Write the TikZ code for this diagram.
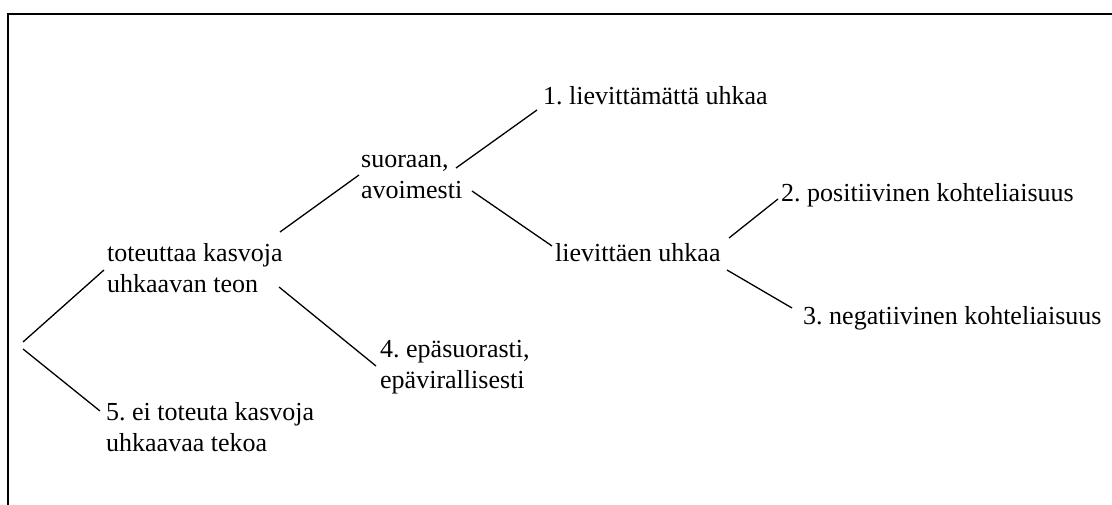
\documentclass[tikz,border=0pt]{standalone}
\usepackage{fontspec}
\setmainfont{Liberation Serif}
\frenchspacing
\begin{document}
\begin{tikzpicture}[x=1pt,y=-1pt,
  lbl/.style={anchor=base west,inner sep=0pt,align=left,font=\fontsize{26}{31}\selectfont},
  branch/.style={line width=1.3pt},
  frame/.style={line width=2pt}]
\useasboundingbox (0,0) rectangle (1112,505);
% open frame: top and left edges only
\draw[frame] (8,505) -- (8,14.5) -- (1112,14.5);

% labels (base anchor sits on the last line of a two-line label)
\node[lbl] (tot) at (107,293) {toteuttaa kasvoja\\uhkaavan teon};
\node[lbl] (ei) at (106,451) {5. ei toteuta kasvoja\\uhkaavaa tekoa};
\node[lbl] (suo) at (361,199) {suoraan,\\avoimesti};
\node[lbl] (epa) at (380,388) {4. epäsuorasti,\\epävirallisesti};
\node[lbl] (lm) at (543,105) {1. lievittämättä uhkaa};
\node[lbl] (lu) at (555,262) {lievittäen uhkaa};
\node[lbl] (pos) at (781,202) {2. positiivinen kohteliaisuus};
\node[lbl] (neg) at (803,325) {3. negatiivinen kohteliaisuus};

% branch end points
\coordinate (rootA) at (23,342);
\coordinate (rootB) at (23,349);
\coordinate (totIn) at (104,270);
\coordinate (eiIn) at (100,411);
\coordinate (totUp) at (280,232);
\coordinate (totDn) at (279,287);
\coordinate (suoIn) at (359,175);
\coordinate (epaIn) at (376,366);
\coordinate (suoUp) at (456,168);
\coordinate (suoDn) at (472,191);
\coordinate (lmIn) at (537,110);
\coordinate (luIn) at (552,246);
\coordinate (luUp) at (729,238);
\coordinate (luDn) at (727,270);
\coordinate (posIn) at (778,199);
\coordinate (negIn) at (792,308);

% branches
\draw[branch] (rootA) -- (totIn);
\draw[branch] (rootB) -- (eiIn);
\draw[branch] (totUp) -- (suoIn);
\draw[branch] (totDn) -- (epaIn);
\draw[branch] (suoUp) -- (lmIn);
\draw[branch] (suoDn) -- (luIn);
\draw[branch] (luUp) -- (posIn);
\draw[branch] (luDn) -- (negIn);
\end{tikzpicture}
\end{document}
